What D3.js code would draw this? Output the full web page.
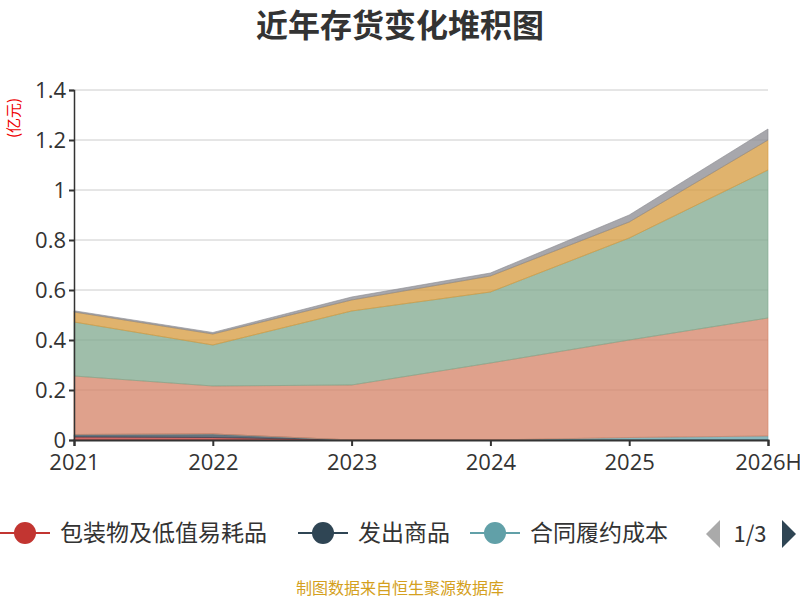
<!DOCTYPE html><html><head><meta charset="utf-8"><script src="https://cdn.jsdelivr.net/npm/d3@7"></script>
<style>body{margin:0;background:#fff;font-family:"Noto Sans CJK SC","Noto Sans",sans-serif}</style></head><body><svg id="c" width="800" height="600"></svg>
<script>
const categories=["2021","2022","2023","2024","2025","2026H"];
const seriesNames=["包装物及低值易耗品","发出商品","合同履约成本","原材料","库存商品","在产品","周转材料"];
const s0=[0.012,0.010,0,0,0,0];
const s1=[0.010,0.014,0,0,0,0];
const s2=[0,0,0,0,0.010,0.016];
const s3=[0.234,0.192,0.220,0.308,0.390,0.472];
const s4=[0.216,0.164,0.296,0.284,0.408,0.592];
const s5=[0.040,0.044,0.044,0.064,0.064,0.120];
const s6=[0.005,0.006,0.012,0.012,0.028,0.044];
const yTicks=[0,0.2,0.4,0.6,0.8,1,1.2,1.4];
const colors=["#c23531","#2f4554","#61a0a8","#d48265","#7fa88e","#d69a3c","#8a8a90"];
const all=[s0,s1,s2,s3,s4,s5,s6];
const svg=d3.select("#c");
const x=d3.scalePoint().domain(categories).range([74,768]);
const y=d3.scaleLinear().domain([0,1.4]).range([440,90]);
const rows=categories.map((c,i)=>{const o={c};all.forEach((s,k)=>o[k]=s[i]);return o;});
const stack=d3.stack().keys(all.map((_,k)=>k))(rows);
svg.append("g").selectAll("line").data(yTicks.slice(1)).join("line").attr("x1",74).attr("x2",768).attr("y1",d=>y(d)).attr("y2",d=>y(d)).attr("stroke","#ccc");
const area=d3.area().x(d=>x(d.data.c)).y0(d=>y(d[0])).y1(d=>y(d[1]));
svg.append("g").selectAll("path").data(stack).join("path").attr("d",area).attr("fill",(d,i)=>colors[i]).attr("fill-opacity",0.75).attr("stroke",(d,i)=>colors[i]).attr("stroke-opacity",0.6).attr("stroke-width",1);
const ya=svg.append("g").attr("transform","translate(74,0)").call(d3.axisLeft(y).tickValues(yTicks).tickFormat(d=>d).tickSize(5));
ya.selectAll("text").attr("font-size",22).attr("fill","#333").attr("font-family","Open Sans, sans-serif");
const xa=svg.append("g").attr("transform","translate(0,440)").call(d3.axisBottom(x).tickSize(6));
xa.selectAll("text").attr("font-size",22).attr("fill","#333").attr("dy","0.95em").attr("font-family","Open Sans, sans-serif");
svg.selectAll(".domain,.tick line").attr("stroke","#333").attr("stroke-width",2);
ya.select(".domain").attr("stroke-width",1.5);
svg.append("text").attr("x",400).attr("y",37).attr("text-anchor","middle").attr("font-size",32).attr("font-weight","bold").attr("fill","#333").text("近年存货变化堆积图");
svg.append("text").attr("transform","translate(19,118) rotate(-90)").attr("text-anchor","middle").attr("font-size",15).attr("fill","#e00").text("(亿元)");
const lg=[[0,0],[1,298],[2,470]];
lg.forEach(([k,x0])=>{const g=svg.append("g").attr("transform",`translate(${x0},533)`);
g.append("line").attr("x1",0).attr("x2",50).attr("stroke",colors[k]).attr("stroke-width",2);
g.append("circle").attr("cx",25).attr("r",11).attr("fill",colors[k]);
g.append("text").attr("x",60).attr("y",8).attr("font-size",23).attr("fill","#333").text(seriesNames[k]);});
svg.append("path").attr("d","M720,520 L706,534 L720,548Z").attr("fill","#aaa");
svg.append("text").attr("x",750).attr("y",542).attr("text-anchor","middle").attr("font-size",22).attr("fill","#333").text("1/3");
svg.append("path").attr("d","M782,520 L796,534 L782,548Z").attr("fill","#2f4554");
svg.append("text").attr("x",400).attr("y",594).attr("text-anchor","middle").attr("font-size",16).attr("fill","#d4a020").text("制图数据来自恒生聚源数据库");
</script></body></html>
